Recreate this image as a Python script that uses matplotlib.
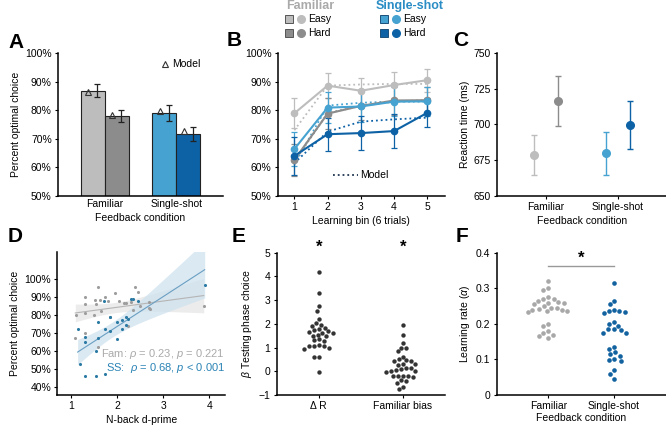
import numpy as np
import matplotlib
matplotlib.use("Agg")
import matplotlib.pyplot as plt
from matplotlib.ticker import FuncFormatter

plt.rcParams["font.family"] = ["Liberation Sans", "DejaVu Sans"]
plt.rcParams["mathtext.fontset"] = "custom"
plt.rcParams["mathtext.it"] = "Liberation Sans:italic"
plt.rcParams["mathtext.rm"] = "Liberation Sans"
plt.rcParams["font.size"] = 7.5

# colours
c_fe, c_fh = "#bdbdbd", "#8c8c8c"
c_se, c_sh = "#46a2d0", "#0d62a6"

# ---- data ----
conds = ["Familiar", "Single-shot"]
# A: percent optimal choice (easy, hard)
acc_mean = [86.8, 77.9, 78.9, 71.8]
acc_err = [2.2, 2.0, 2.8, 2.5]
acc_model = [86.2, 78.4, 79.6, 72.7]

# B: learning curves
bins = [1, 2, 3, 4, 5]
fam_easy = [78.9, 88.6, 86.8, 88.8, 90.5]
fam_hard = [62.6, 78.8, 81.5, 83.4, 83.5]
ss_easy = [66.4, 80.9, 81.3, 83.0, 83.1]
ss_hard = [64.0, 71.6, 72.0, 72.7, 79.1]
fam_easy_err = [5.2, 4.3, 4.4, 4.4, 4.0]
fam_hard_err = [5.5, 5.5, 5.0, 5.0, 4.5]
ss_easy_err = [6.0, 5.5, 5.5, 5.0, 5.0]
ss_hard_err = [6.5, 5.8, 6.0, 6.0, 5.0]
fam_easy_mod = [73.0, 88.6, 89.0, 89.2, 89.2]
fam_hard_mod = [62.0, 79.0, 81.5, 83.0, 83.5]
ss_easy_mod = [61.0, 81.6, 82.6, 83.0, 83.0]
ss_hard_mod = [61.5, 72.5, 76.0, 76.8, 77.4]

# C: reaction time
rt_mean = [678.8, 716.0, 679.8, 699.6]
rt_err = [14.0, 17.5, 15.0, 17.0]

# D: n-back vs accuracy
fam_d = [1.12, 1.3, 1.32, 1.3, 1.55, 1.6, 1.65, 1.75, 1.8, 1.95, 2.05, 2.15, 2.2, 2.3,
         2.35, 2.4, 2.45, 2.5, 2.7, 2.7, 2.72, 3.88, 1.3, 1.5, 1.6, 2.25, 1.1, 1.85,
         1.53, 1.64]
fam_pc = [80, 90, 86, 81, 86, 95.5, 82, 90, 88, 92.5, 88, 86.5, 86.5, 87,
          83, 95.5, 93, 85, 87, 84, 83.5, 85, 70, 80, 62, 74, 67, 79,
          88.5, 88.5]
ss_d = [1.15, 1.2, 1.3, 1.3, 1.32, 1.55, 1.55, 1.6, 1.6, 1.73, 1.75, 1.75,
        1.85, 1.85, 2.0, 2.0, 2.1, 2.1, 2.2, 2.25, 2.3, 2.35, 2.45, 2.2, 3.9]
ss_pc = [72, 53, 46, 65, 68, 46, 60, 76, 67, 88, 47, 72,
         71, 79, 66.5, 76, 72, 77, 74.5, 78, 89, 89, 88, 79, 96.5]

# E: regression weights
beta_labels = ["\u0394 R", "Familiar bias"]
beta_dr = [4.2, 3.3, 2.75, 2.55, 2.2, 2.02, 1.97, 1.92, 1.82, 1.77, 1.72, 1.68, 1.65, 1.62,
           1.6, 1.55, 1.5, 1.47, 1.35, 1.3, 1.27, 1.1, 1.08, 1.06, 1.05, 1.0, 0.95, 0.6, 0.62, -0.05]
beta_fb = [1.95, 1.55, 1.2, 1.0, 0.98, 0.85, 0.62, 0.5, 0.47, 0.45, 0.42, 0.3, 0.32, 0.28,
           0.15, 0.12, 0.1, 0.05, 0.0, 0.02, -0.02, -0.2, -0.2, -0.22, -0.18, -0.2, -0.38,
           -0.42, -0.5, -0.65, -0.75]

# F: learning rates
lr_fam = [0.32, 0.30, 0.295, 0.275, 0.27, 0.27, 0.265, 0.262, 0.26, 0.258, 0.255, 0.25, 0.245,
          0.245, 0.243, 0.24, 0.24, 0.235, 0.235, 0.232, 0.2, 0.195, 0.18, 0.175, 0.17, 0.165, 0.16]
lr_ss = [0.315, 0.265, 0.255, 0.24, 0.237, 0.235, 0.232, 0.23, 0.205, 0.2, 0.195, 0.185, 0.185,
         0.182, 0.175, 0.175, 0.135, 0.13, 0.12, 0.115, 0.11, 0.1, 0.098, 0.095, 0.07, 0.06, 0.045]


def style(ax):
    for s in ["top", "right"]:
        ax.spines[s].set_visible(False)
    for s in ["left", "bottom"]:
        ax.spines[s].set_linewidth(1.1)
    ax.tick_params(direction="out", length=2.5, width=0.8, pad=2, labelsize=7.5)


def pct(ax):
    ax.yaxis.set_major_formatter(FuncFormatter(lambda v, p: "%d%%" % v))


def swarm(values, ypx, diam):
    # beeswarm offsets in pixels, values scaled by ypx px/unit
    order = np.argsort(values)[::-1]
    placed = []
    xs = np.zeros(len(values))
    for i in order:
        y = values[i] * ypx
        cands = [0.0]
        for (px, py) in placed:
            dy = abs(py - y)
            if dy < diam:
                dx = np.sqrt(diam ** 2 - dy ** 2)
                cands += [px + dx, px - dx]
        cands = sorted(cands, key=lambda c: (abs(c), c))
        for c in cands:
            ok = all((c - px) ** 2 + (y - py) ** 2 >= diam ** 2 - 1e-6 for (px, py) in placed)
            if ok:
                break
        placed.append((c, y))
        xs[i] = c
    return xs


fig = plt.figure(figsize=(6.66, 4.25), dpi=100)
W, H = 666, 425


def add_ax(l, r, t, b):
    return fig.add_axes([l / W, 1 - b / H, (r - l) / W, (b - t) / H])


# ---------- A ----------
axA = add_ax(58, 223, 53, 196)
style(axA)
w = 0.333
xpos = [1 - w / 2, 1 + w / 2, 2 - w / 2, 2 + w / 2]
cols = [c_fe, c_fh, c_se, c_sh]
axA.bar(xpos, [m - 50 for m in acc_mean], bottom=50, width=w, color=cols,
        edgecolor="#222222", linewidth=0.8)
axA.errorbar([x + 0.064 for x in xpos], acc_mean, yerr=acc_err, fmt="none",
             ecolor="#222222", elinewidth=0.9, capsize=2.5, capthick=0.9)
axA.plot([x - 0.06 for x in xpos], acc_model, "^", mfc="none", mec="#333333", ms=4.5, mew=0.8)
axA.plot([0.648], [0.92], "^", mfc="none", mec="#333333", ms=4.5, mew=0.8,
         transform=axA.transAxes, clip_on=False)
axA.text(0.69, 0.92, "Model", transform=axA.transAxes, va="center", ha="left", fontsize=7.5)
axA.set_xlim(0.35, 2.65)
axA.set_ylim(50, 100)
axA.set_xticks([1, 2])
axA.set_xticklabels(conds)
axA.tick_params(axis="x", length=0)
pct(axA)
axA.set_ylabel("Percent optimal choice", fontsize=7.5, labelpad=3)
axA.set_xlabel("Feedback condition", fontsize=7.5, labelpad=3)

# ---------- B ----------
axB = add_ax(277.7, 445, 53, 196)
style(axB)
series = [(fam_easy, fam_easy_err, fam_easy_mod, c_fe),
          (fam_hard, fam_hard_err, fam_hard_mod, c_fh),
          (ss_easy, ss_easy_err, ss_easy_mod, c_se),
          (ss_hard, ss_hard_err, ss_hard_mod, c_sh)]
for vals, err, mod, c in series:
    axB.plot(bins, mod, ":", color=c, lw=1.3)
    axB.errorbar(bins, vals, yerr=err, fmt="-o", color=c, ecolor=c, lw=1.5, ms=4.5,
                 elinewidth=0.9, capsize=2, capthick=0.9, alpha=1.0)
axB.set_xlim(0.5, 5.53)
axB.set_ylim(50, 100)
axB.set_xticks(bins)
pct(axB)
axB.set_xlabel("Learning bin (6 trials)", fontsize=7.5, labelpad=3)
axB.plot([0.33, 0.48], [0.147, 0.147], ":", color="#1f3550", lw=1.3, transform=axB.transAxes)
axB.text(0.49, 0.147, "Model", transform=axB.transAxes, va="center", ha="left", fontsize=7.5)

# legend on top of B
def fx(px):
    return px / W


def fy(py):
    return 1 - py / H


fig.text(fx(310), fy(6), "Familiar", color="#aaaaaa", fontweight="bold", fontsize=9,
         ha="center", va="center")
fig.text(fx(410), fy(6), "Single-shot", color="#2a8dc5", fontweight="bold", fontsize=9,
         ha="center", va="center")
rows = [(19, "Easy", c_fe, c_se), (33, "Hard", c_fh, c_sh)]
for yy, lab, cf, cs in rows:
    for x0, c in [(289, cf), (384, cs)]:
        fig.add_artist(plt.Line2D([fx(x0)], [fy(yy)], marker="s", ms=5.5, mfc=c,
                                  mec="#555555" if c in (c_fe, c_fh) else "#1a4f7a", mew=0.7,
                                  transform=fig.transFigure))
        fig.add_artist(plt.Line2D([fx(x0 + 12)], [fy(yy)], marker="o", ms=5.5, mfc=c, mec=c,
                                  transform=fig.transFigure))
        fig.text(fx(x0 + 19), fy(yy), lab, ha="left", va="center", fontsize=7.5)

# ---------- C ----------
axC = add_ax(497.3, 666, 52.7, 196)
style(axC)
cx = [1 - 0.163, 1 + 0.163, 2 - 0.163, 2 + 0.163]
for x, m, e, c in zip(cx, rt_mean, rt_err, cols):
    axC.errorbar([x], [m], yerr=[e], fmt="o", color=c, ecolor=c, ms=5.5,
                 elinewidth=1.0, capsize=2.5, capthick=1.0)
axC.set_xlim(0.324, 2.67)
axC.set_ylim(650, 750)
axC.set_yticks([650, 675, 700, 725, 750])
axC.set_xticks([1, 2])
axC.set_xticklabels(conds)
axC.set_ylabel("Reaction time (ms)", fontsize=7.5, labelpad=3)
axC.set_xlabel("Feedback condition", fontsize=7.5, labelpad=3)

# ---------- D ----------
axD = add_ax(57.3, 225, 251.7, 395)
style(axD)
gray_d, blue_d = "#9d9d9d", "#2b7aa3"
for xs, ys, c, band, lc in [(fam_d, fam_pc, gray_d, "#e6e6e6", "#b5b5b5"),
                            (ss_d, ss_pc, blue_d, "#cfe2ef", "#6a9fc2")]:
    xs = np.array(xs, float)
    ys = np.array(ys, float)
    k, b0 = np.polyfit(xs, ys, 1)
    n = len(xs)
    resid = ys - (k * xs + b0)
    s = np.sqrt(np.sum(resid ** 2) / (n - 2))
    xx = np.linspace(xs.min(), xs.max(), 100)
    se = s * np.sqrt(1 / n + (xx - xs.mean()) ** 2 / np.sum((xs - xs.mean()) ** 2))
    yy = k * xx + b0
    axD.fill_between(xx, yy - 2.06 * se, yy + 2.06 * se, color=band, alpha=0.75, lw=0)
    axD.plot(xx, yy, color=lc, lw=0.8)
axD.scatter(fam_d, fam_pc, s=5, color=gray_d, zorder=3, lw=0)
axD.scatter(ss_d, ss_pc, s=5, color=blue_d, zorder=3, lw=0)
axD.set_xlim(0.71, 4.34)
axD.set_ylim(35.6, 115.2)
axD.set_yticks([40, 50, 60, 70, 80, 90, 100])
axD.set_xticks([1, 2, 3, 4])
pct(axD)
axD.set_ylabel("Percent optimal choice", fontsize=7.5, labelpad=3)
axD.set_xlabel("N-back d-prime", fontsize=7.5, labelpad=3)
axD.text(1.0, 0.286, r"Fam: $\rho$ = 0.23, $p$ = 0.221", color="#aaaaaa", transform=axD.transAxes,
         ha="right", va="center", fontsize=8)
axD.text(1.0, 0.188, r"SS:  $\rho$ = 0.68, $p$ < 0.001", color="#2a83b5", transform=axD.transAxes,
         ha="right", va="center", fontsize=8)

# ---------- E ----------
axE = add_ax(276.7, 445, 252.7, 395)
style(axE)
ypx_E = 142.3 / 6
xpx_E = 168.3 / 2.0
for i, vals in enumerate([beta_dr, beta_fb]):
    off = swarm(np.array(vals), ypx_E, 5.0) / xpx_E
    axE.scatter(i + 1 + off, vals, s=10, color="#333333", lw=0, zorder=3)
    axE.text(i + 1, 5.25, "*", ha="center", va="center", fontsize=12, fontweight="bold")
axE.set_xlim(0.5, 2.5)
axE.set_ylim(-1, 5)
axE.set_xticks([1, 2])
axE.set_xticklabels(beta_labels)
axE.set_ylabel(r"$\beta$ Testing phase choice", fontsize=7.5, labelpad=3)

# ---------- F ----------
axF = add_ax(496.7, 666, 252.7, 395)
style(axF)
ypx_F = 142.3 / 0.4
xpx_F = 169.3 / 2.58
for i, (vals, c) in enumerate([(lr_fam, "#a8a8a8"), (lr_ss, "#1262a0")]):
    off = swarm(np.array(vals), ypx_F, 5.5) / xpx_F
    axF.scatter(i + 1 + off, vals, s=11, color=c, lw=0, zorder=3)
axF.plot([1, 2], [0.3626, 0.3626], color="#999999", lw=1.0)
axF.text(1.5, 0.383, "*", ha="center", va="center", fontsize=12, fontweight="bold")
axF.set_xlim(0.215, 2.79)
axF.set_ylim(0, 0.4)
axF.set_yticks([0, 0.1, 0.2, 0.3, 0.4])
axF.set_yticklabels(["0", "0.1", "0.2", "0.3", "0.4"])
axF.set_xticks([1, 2])
axF.set_xticklabels(conds)
axF.set_ylabel(r"Learning rate ($\alpha$)", fontsize=7.5, labelpad=3)
axF.set_xlabel("Feedback condition", fontsize=7.5, labelpad=1)

# panel letters
for lab, x, y in [("A", 8, 43), ("B", 227, 40), ("C", 453, 40),
                  ("D", 8, 237), ("E", 232, 237), ("F", 456, 237)]:
    fig.text(fx(x), fy(y), lab, fontsize=15, fontweight="bold", ha="left", va="center")

fig.savefig("out.png", dpi=100)
